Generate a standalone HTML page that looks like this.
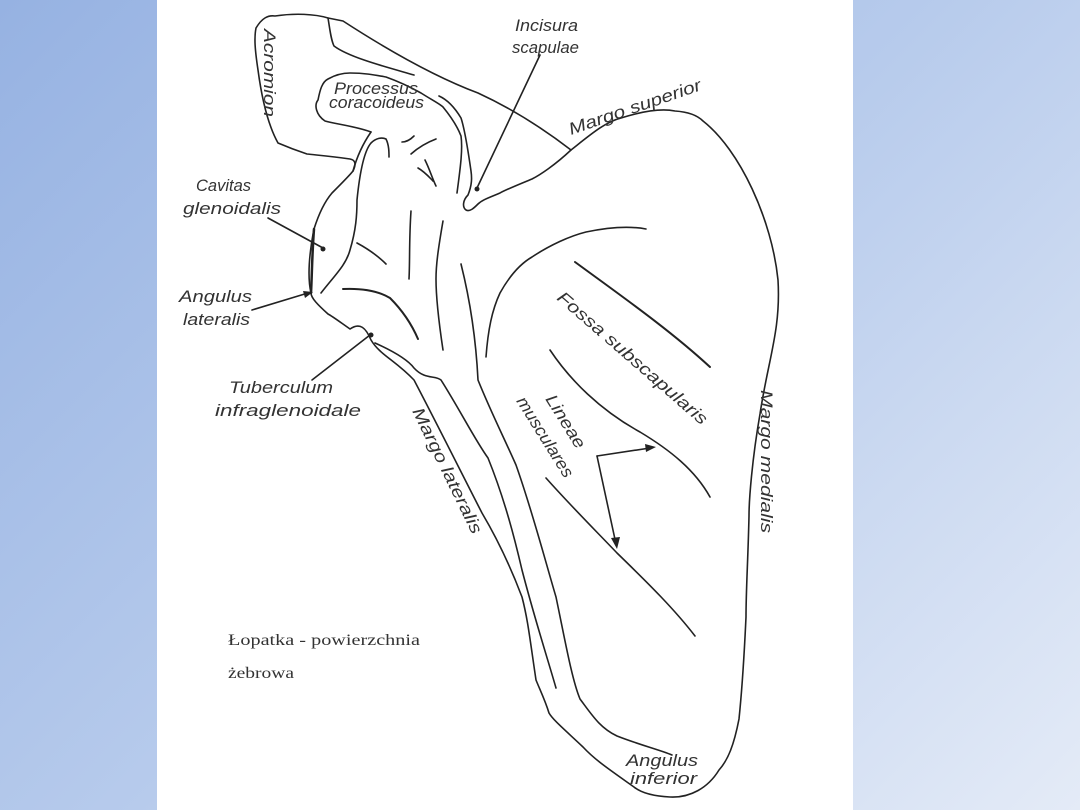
<!DOCTYPE html>
<html><head><meta charset="utf-8"><style>
html,body{margin:0;padding:0}
body{width:1080px;height:810px;overflow:hidden;background:linear-gradient(135deg,#96b2e2 0%,#b7cbec 50%,#e4ebf7 100%);position:relative}
#w{position:absolute;left:157px;top:0;width:696px;height:810px;background:#fff}
svg{position:absolute;left:0;top:0}
text{font-family:"Liberation Sans",sans-serif;font-style:italic;fill:#333;font-size:17px}
.s{font-family:"Liberation Serif",serif;font-style:normal;font-size:16px;fill:#333}
</style></head><body><div id="w"></div>
<svg width="1080" height="810" viewBox="0 0 1080 810" fill="none" stroke="#222" stroke-width="1.6" stroke-linecap="round" stroke-linejoin="round">
<path d="M256,28 C262,18 268,15 275,16 C295,13 315,14 328,18 L343,21 C380,45 430,75 478,93 C515,110 545,130 571,150 C590,135 605,122 621,118 C640,112 660,108 675,111 C690,112 698,116 703,121 C740,150 772,220 778,280 C781,330 768,360 760,414 C752,460 749,500 749,516 C748,560 746,590 746,617 C744,660 742,690 739,719 C734,745 728,760 719,770 C708,788 690,798 670,797 C650,796 640,792 634,787 C610,770 595,760 583,747 C565,730 553,720 549,713 C545,700 540,690 536,680 C530,640 528,620 522,597 C508,560 495,535 482,513 C460,470 435,420 414,380 C395,360 380,355 371,340 C366,328 360,322 350,329 C340,322 332,316 328,314 C318,305 311,298 311,293 C308,280 308,260 314,229 C320,210 326,200 332,193 C345,180 350,175 353,171 C356,165 356,160 350,159 C330,156 315,155 307,154 C295,150 285,146 278,143 C268,125 262,100 258,70 C255,50 254,38 256,28 Z"/>
<path d="M328,18 C330,30 331,40 334,46 C350,58 390,68 414,75"/>
<path d="M571,150 C555,165 540,175 532,179 C515,186 505,190 500,193 C488,198 482,200 478,204 C474,208 470,212 466,210 C462,207 463,200 468,195 C472,185 472,178 471,171 C468,150 465,130 461,118 C455,108 448,100 439,96"/>
<path d="M371,132 C355,126 335,124 325,121 C316,115 314,105 318,100 C320,90 322,82 328,79 C335,75 342,73 350,73 C365,73 375,75 386,77 C400,82 412,88 421,93 C432,100 440,104 443,107 C452,118 458,128 461,136 C463,150 460,170 457,193"/>
<path d="M371,132 C362,145 356,160 353,171"/>
<path d="M321,293 C335,275 346,265 350,250 C356,230 357,215 357,200 C360,170 365,150 371,143 C376,138 382,137 386,139 C389,145 389,152 389,157"/>
<path d="M314,229 C312,255 312,275 311,293" stroke-width="2.5"/>
<path d="M414,136 C410,140 406,142 402,142"/>
<path d="M411,154 C420,146 428,142 436,139"/>
<path d="M418,168 C425,172 430,178 433,181"/>
<path d="M425,160 C430,170 432,178 436,186"/>
<path d="M411,211 C409,240 410,260 409,279"/>
<path d="M443,221 C438,250 436,265 436,279 C436,300 440,330 443,350"/>
<path d="M357,243 C370,250 380,258 386,264"/>
<path d="M343,289 C365,288 380,292 390,298 C402,310 412,325 418,339" stroke-width="2"/>
<path d="M375,343 C395,352 408,360 414,368 C425,380 435,375 441,380 C460,410 475,440 488,458 C505,500 515,540 522,570 C535,620 548,660 556,688"/>
<path d="M461,264 C470,300 476,340 478,380 C490,410 505,440 516,465 C532,510 545,560 556,597 C565,640 572,680 580,699 C592,715 600,728 617,736 C640,745 660,750 672,755"/>
<path d="M486,357 C488,330 492,310 500,293 C510,275 520,264 532,257 C550,245 570,236 586,232 C610,227 630,226 646,229"/>
<path d="M575,262 C620,295 670,330 710,367" stroke-width="2"/>
<path d="M550,350 C570,380 600,410 640,432 C670,450 695,470 710,497"/>
<path d="M546,478 C570,505 595,530 617,553 C650,585 675,610 695,636"/>
<path d="M268,218 L323,248"/>
<path d="M252,310 L308,293"/>
<path d="M312,380 L370,335"/>
<path d="M540,55 L477,188"/>
<path d="M597,456 L650,448"/>
<path d="M597,456 L616,544"/>
</svg>
<svg width="1080" height="810">
<circle cx="323" cy="249" r="2.5" fill="#222"/>
<circle cx="371" cy="335" r="2.5" fill="#222"/>
<circle cx="477" cy="189" r="2.5" fill="#222"/>
<polygon points="313,292 303,291 305,298" fill="#222"/>
<polygon points="656,447 645,444 646,452" fill="#222"/>
<polygon points="617,549 611,538 620,537" fill="#222"/>
<text transform="translate(264,29) rotate(90)" textLength="88" lengthAdjust="spacingAndGlyphs">Acromion</text>
<text x="334" y="94" font-size="15" textLength="84" lengthAdjust="spacingAndGlyphs">Processus</text>
<text x="329" y="108" font-size="15" textLength="95" lengthAdjust="spacingAndGlyphs">coracoideus</text>
<text x="515" y="31" textLength="63" lengthAdjust="spacingAndGlyphs">Incisura</text>
<text x="512" y="53" textLength="67" lengthAdjust="spacingAndGlyphs">scapulae</text>
<text transform="translate(571,135) rotate(-19)" textLength="139" lengthAdjust="spacingAndGlyphs">Margo superior</text>
<text x="196" y="191" textLength="55" lengthAdjust="spacingAndGlyphs">Cavitas</text>
<text x="183" y="214" textLength="98" lengthAdjust="spacingAndGlyphs">glenoidalis</text>
<text x="179" y="302" textLength="73" lengthAdjust="spacingAndGlyphs">Angulus</text>
<text x="183" y="325" textLength="67" lengthAdjust="spacingAndGlyphs">lateralis</text>
<text x="229" y="393" textLength="104" lengthAdjust="spacingAndGlyphs">Tuberculum</text>
<text x="215" y="416" textLength="146" lengthAdjust="spacingAndGlyphs">infraglenoidale</text>
<text transform="translate(556,299) rotate(41)" textLength="193" lengthAdjust="spacingAndGlyphs">Fossa subscapularis</text>
<text transform="translate(545,399) rotate(58)" textLength="60" lengthAdjust="spacingAndGlyphs">Lineae</text>
<text transform="translate(516,401) rotate(58)" textLength="92" lengthAdjust="spacingAndGlyphs">musculares</text>
<text transform="translate(412,411) rotate(64)" textLength="138" lengthAdjust="spacingAndGlyphs">Margo lateralis</text>
<text transform="translate(761,390) rotate(90)" textLength="143" lengthAdjust="spacingAndGlyphs">Margo medialis</text>
<text x="626" y="766" textLength="72" lengthAdjust="spacingAndGlyphs">Angulus</text>
<text x="630" y="784" textLength="67" lengthAdjust="spacingAndGlyphs">inferior</text>
<text class="s" x="228" y="645" textLength="192" lengthAdjust="spacingAndGlyphs">Łopatka - powierzchnia</text>
<text class="s" x="228" y="678" textLength="66" lengthAdjust="spacingAndGlyphs">żebrowa</text>
</svg>
</body></html>
